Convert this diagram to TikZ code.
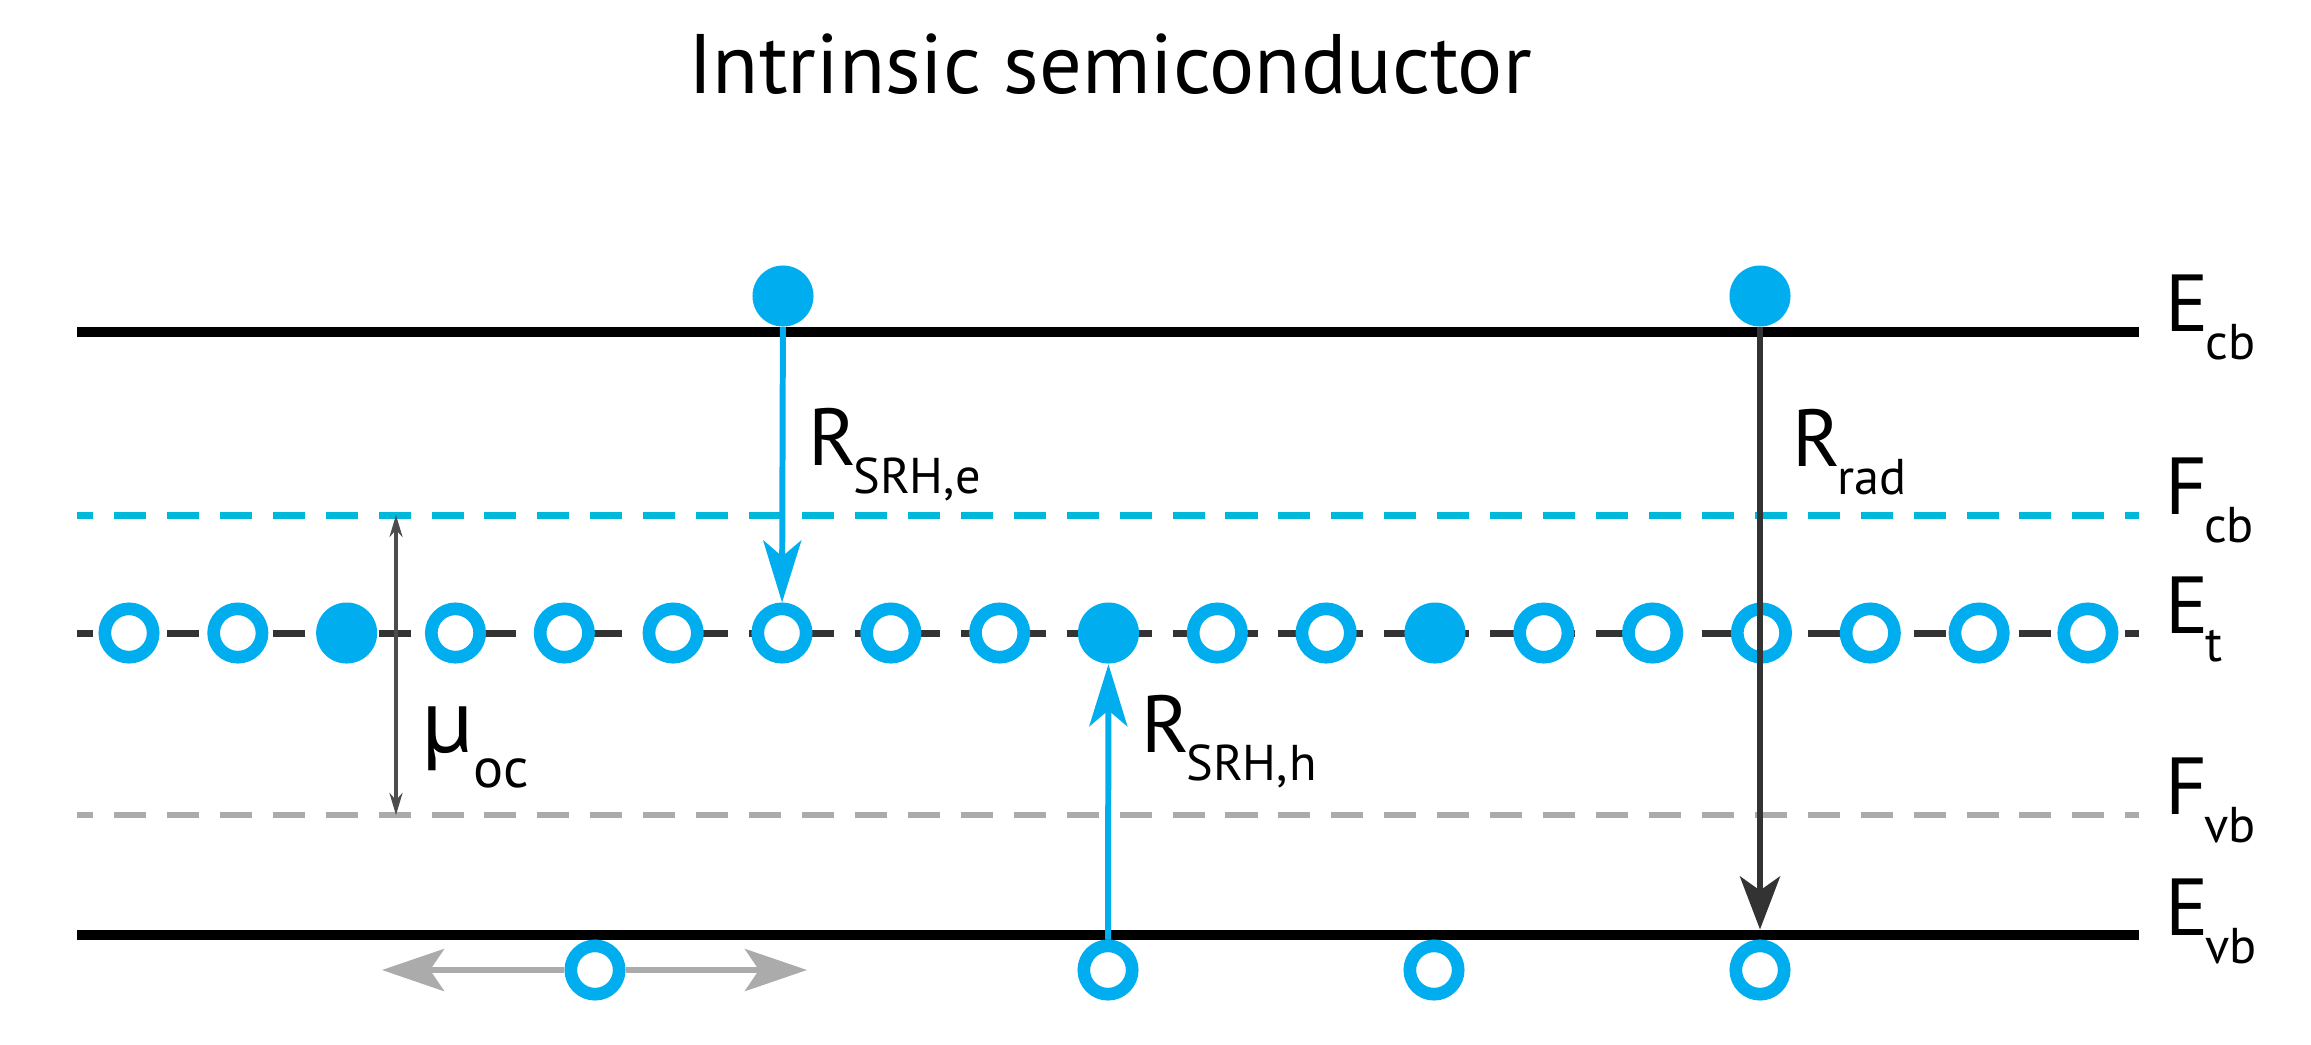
\documentclass[tikz,border=0pt]{standalone}
\usepackage{fontspec}
\setmainfont{PT Sans}
\usetikzlibrary{arrows.meta}
\definecolor{elBlue}{HTML}{00AEEF}
\definecolor{fermiBlue}{HTML}{00B8D9}
\definecolor{fermiGray}{HTML}{ABABAB}
\definecolor{radDark}{HTML}{333333}
\newcommand{\lvl}[2]{{\fontsize{23}{23}\selectfont #1}\kern-1pt\raisebox{-8pt}{\fontsize{14.3}{14.3}\selectfont #2}}

\begin{document}
\begin{tikzpicture}[x=0.01cm,y=-0.01cm,>=Stealth]
  \tikzstyle{band}=[draw=black,line width=3pt]
  \tikzstyle{filled}=[circle,fill=elBlue,inner sep=0pt,minimum size=0.61cm]
  \tikzstyle{hole}=[circle,draw=elBlue,fill=white,line width=3.6pt,inner sep=0pt,minimum size=0.61cm-3.6pt]
  \tikzstyle{lbl}=[anchor=base west,inner sep=0pt]
  \tikzstyle{rate}=[line width=1.7pt]
  \tikzstyle{levelDash}=[dash pattern=on 0.32cm off 0.209cm,dash phase=0.16cm]
  \useasboundingbox (0,0) rectangle (2311,1044);

  \node[anchor=base,inner sep=0pt,font=\fontsize{24}{24}\selectfont] (title) at (1110,93) {Intrinsic semiconductor};

  % levels
  \coordinate (cbL) at (77,332);   \coordinate (cbR) at (2139,332);
  \coordinate (fcL) at (77,515);   \coordinate (fcR) at (2139,515);
  \coordinate (etL) at (77,633);   \coordinate (etR) at (2139,633);
  \coordinate (fvL) at (77,815);   \coordinate (fvR) at (2139,815);
  \coordinate (vbL) at (77,935);   \coordinate (vbR) at (2139,935);
  \draw[band] (cbL) -- (cbR);
  \draw[band] (vbL) -- (vbR);
  \draw[fermiBlue,line width=2pt,levelDash] (fcL) -- (fcR);
  \draw[fermiGray,line width=1.5pt,levelDash] (fvL) -- (fvR);
  \draw[black!80,line width=2pt,levelDash] (etL) -- (etR);

  % trap states
  \foreach \i in {0,...,18} {
    \pgfmathsetmacro{\xt}{129+108.83*\i}
    \ifnum\i=2 \node[filled] (t\i) at (\xt,633) {};
    \else\ifnum\i=9 \node[filled] (t\i) at (\xt,633) {};
    \else\ifnum\i=12 \node[filled] (t\i) at (\xt,633) {};
    \else \node[hole] (t\i) at (\xt,633) {};
    \fi\fi\fi
  }

  % carriers
  \node[filled] (e1) at (783,296) {};
  \node[filled] (e2) at (1760,296) {};
  \node[hole] (h1) at (595,970) {};
  \node[hole] (h2) at (1108,970) {};
  \node[hole] (h3) at (1434,970) {};
  \node[hole] (h4) at (1760,970) {};
  \coordinate (holeL) at (382,970);
  \coordinate (holeR) at (807,970);
  \coordinate (fcM) at (396,515);
  \coordinate (fvM) at (396,815);

  % rates
  \draw[->,elBlue,rate,arrows={-Stealth[length=0.62cm,width=0.38cm,inset=0.16cm]}] (e1) -- (t6);
  \draw[->,elBlue,rate,arrows={-Stealth[length=0.62cm,width=0.38cm,inset=0.16cm]}] (h2) -- (t9);
  \draw[->,radDark,rate,shorten >=0.1cm,arrows={-Stealth[length=0.53cm,width=0.40cm,inset=0.14cm]}] (e2) -- (h4);
  \draw[<->,black!70,line width=1pt,arrows={Stealth[length=0.22cm,width=0.13cm]-Stealth[length=0.22cm,width=0.13cm]}] (fcM) -- (fvM);
  \draw[->,fermiGray,line width=1.7pt,arrows={-Stealth[length=0.62cm,width=0.42cm,inset=0.14cm]}] (h1) -- (holeL);
  \draw[->,fermiGray,line width=1.7pt,arrows={-Stealth[length=0.62cm,width=0.42cm,inset=0.14cm]}] (h1) -- (holeR);

  % labels
  \node[lbl] (lEcb) at (2165,331) {\lvl{E}{cb}};
  \node[lbl] (lFcb) at (2165,514) {\lvl{F}{cb}};
  \node[lbl] (lEt) at (2165,633) {\lvl{E}{t}};
  \node[lbl] (lFvb) at (2165,814) {\lvl{F}{vb}};
  \node[lbl] (lEvb) at (2165,935) {\lvl{E}{vb}};
  \node[lbl] (lRe) at (808,465) {\lvl{R}{SRH,e}};
  \node[lbl] (lRh) at (1141,752) {\lvl{R}{SRH,\kern0.5pt h}};
  \node[lbl] (lRr) at (1792,466) {\lvl{R}{rad}};
  \node[lbl] (lMu) at (422,752) {{\fontsize{26}{26}\selectfont µ}\raisebox{-10pt}{\fontsize{16}{16}\selectfont oc}};
\end{tikzpicture}
\end{document}
